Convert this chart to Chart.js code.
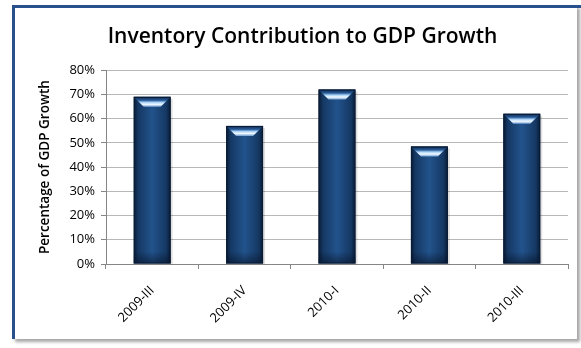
<!DOCTYPE html>
<html>
<head>
<meta charset="utf-8">
<script src="https://cdn.jsdelivr.net/npm/chart.js@4/dist/chart.umd.min.js"></script>
<style>
  html, body { margin: 0; padding: 0; background: #ffffff; width: 581px; height: 348px; overflow: hidden; }
  #frame { position: absolute; left: 12px; top: 5px; width: 562px; height: 334px;
           border-left: 3px solid #27508c; background: #ffffff;
           box-shadow: 3px 3px 3px rgba(0,0,0,0.35); }
  #topline { position: absolute; left: 12px; top: 5px; width: 569px; height: 3px; background: #27508c; }
  #c { position: absolute; left: 0; top: 0; }
</style>
</head>
<body>
<div id="frame"></div>
<div id="topline"></div>
<canvas id="c" width="581" height="348"></canvas>
<script>
const chartTitle = 'Inventory Contribution to GDP Growth';
const yAxisTitle = 'Percentage of GDP Growth';
const categories = ['2009-III', '2009-IV', '2010-I', '2010-II', '2010-III'];
const values = [69, 57, 72, 48.5, 62];
const yTicks = [0, 10, 20, 30, 40, 50, 60, 70, 80];

const FONT = '"Open Sans", "Liberation Sans", sans-serif';

const bevelPlugin = {
  id: 'bevel',
  afterDatasetsDraw(chart) {
    const ctx = chart.ctx;
    const meta = chart.getDatasetMeta(0);
    meta.data.forEach(bar => {
      const w = bar.width;
      const x0 = bar.x - w / 2, x1 = bar.x + w / 2;
      const top = bar.y, bot = bar.base;
      const h = bot - top;
      ctx.save();
      // shadow
      ctx.fillStyle = 'rgba(0,0,0,0.12)';
      ctx.fillRect(x1, top + 2, 2, h - 1);
      // body gradient
      const g = ctx.createLinearGradient(x0, 0, x1, 0);
      g.addColorStop(0, '#081a33');
      g.addColorStop(0.12, '#153863');
      g.addColorStop(0.5, '#22538c');
      g.addColorStop(0.88, '#153863');
      g.addColorStop(1, '#081a33');
      ctx.fillStyle = g;
      ctx.fillRect(x0, top, w, h);
      // bottom shading
      const gb = ctx.createLinearGradient(0, bot - 12, 0, bot);
      gb.addColorStop(0, 'rgba(5,15,35,0)');
      gb.addColorStop(1, 'rgba(5,15,35,0.55)');
      ctx.fillStyle = gb;
      ctx.fillRect(x0, bot - 12, w, 12);
      // top bevel face
      const inset = Math.min(10, h / 3);
      ctx.beginPath();
      ctx.moveTo(x0, top);
      ctx.lineTo(x1, top);
      ctx.lineTo(x1 - inset, top + inset);
      ctx.lineTo(x0 + inset, top + inset);
      ctx.closePath();
      const gt = ctx.createLinearGradient(0, top, 0, top + inset);
      gt.addColorStop(0, '#0c254a');
      gt.addColorStop(0.35, '#2a5d9a');
      gt.addColorStop(0.55, '#a8d2f7');
      gt.addColorStop(0.75, '#f4faff');
      gt.addColorStop(1, '#6f9fd4');
      ctx.fillStyle = gt;
      ctx.fill();
      // outline
      ctx.strokeStyle = '#0a1c36';
      ctx.lineWidth = 1;
      ctx.strokeRect(x0 + 0.5, top + 0.5, w - 1, h - 1);
      ctx.restore();
    });
  }
};

new Chart(document.getElementById('c'), {
  type: 'bar',
  data: {
    labels: categories,
    datasets: [{
      data: values,
      backgroundColor: 'rgba(0,0,0,0)',
      borderWidth: 0,
      categoryPercentage: 1.0,
      barPercentage: 0.4
    }]
  },
  options: {
    responsive: false,
    animation: false,
    layout: { padding: { left: 37, right: 13, top: 0, bottom: 0 } },
    plugins: {
      legend: { display: false },
      tooltip: { enabled: false },
      title: {
        display: true,
        text: chartTitle,
        color: '#000000',
        font: { family: FONT, size: 21, weight: '600' },
        padding: { top: 24, bottom: 21 }
      }
    },
    scales: {
      x: {
        grid: { drawOnChartArea: false, drawTicks: true, tickLength: 5, color: '#868686', offset: true },
        border: { color: '#868686' },
        ticks: { color: '#000000', font: { family: FONT, size: 13 }, maxRotation: 45, minRotation: 45, padding: 14 },
        afterFit(s) { s.height = 84; }
      },
      y: {
        min: 0, max: 80,
        afterBuildTicks(s) { s.ticks = yTicks.map(v => ({ value: v })); },
        grid: { color: '#b8b8b8', tickLength: 5, tickColor: '#868686' },
        border: { color: '#868686' },
        ticks: { color: '#000000', font: { family: FONT, size: 13 }, padding: 6, callback: v => v + '%' },
        title: { display: true, text: yAxisTitle, color: '#000000', font: { family: FONT, size: 13.5, weight: '600' }, padding: 0 },
        afterFit(s) { s.width = 69; }
      }
    }
  },
  plugins: [bevelPlugin]
});
</script>
</body>
</html>
